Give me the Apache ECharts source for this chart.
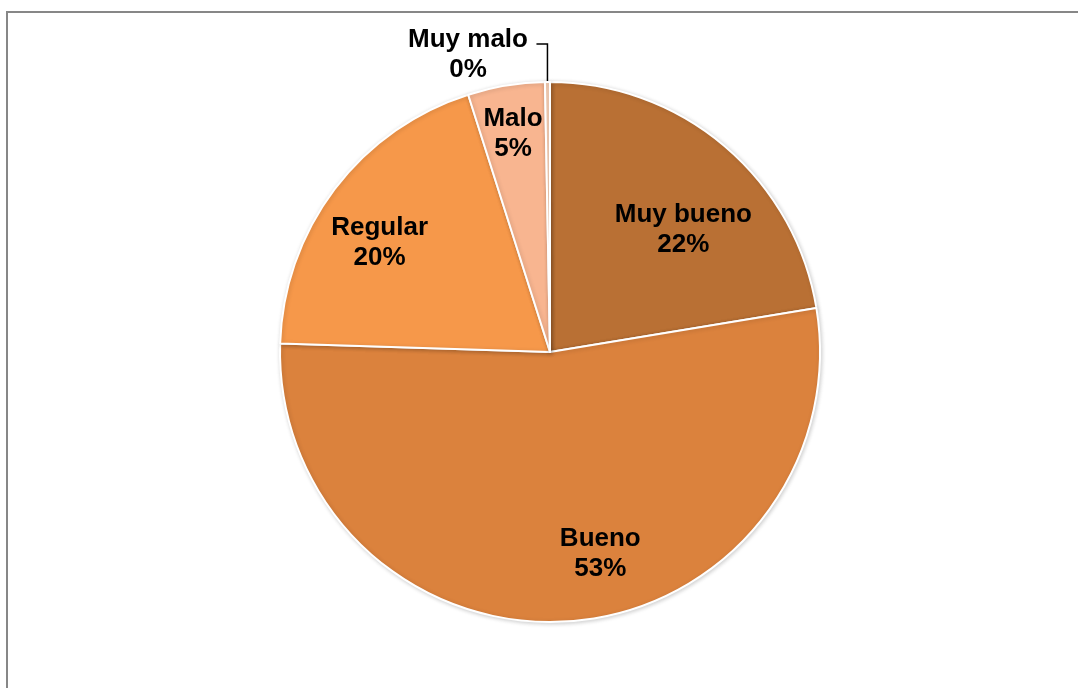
<!DOCTYPE html>
<html>
<head>
<meta charset="utf-8">
<script src="https://cdn.jsdelivr.net/npm/echarts@6/dist/echarts.min.js"></script>
<style>
  html, body { margin: 0; padding: 0; background: #ffffff; }
  #chart { width: 1078px; height: 688px; }
</style>
</head>
<body>
<div id="chart"></div>
<script>
// Rating categories, in clockwise order from 12 o'clock
const categories = ['Muy bueno', 'Bueno', 'Regular', 'Malo', 'Muy malo'];
// Share of answers per category (%)
const shares = [22.4, 53.1, 19.6, 4.6, 0.3];
const sliceColors = ['#B97034', '#DB823D', '#F6984A', '#F8B590', '#FBD3B8'];

// Pie geometry
const CX = 550, CY = 352, R = 270;

// Label placement per slice: angle clockwise from top (deg) and fraction of radius
const labelSpots = [
  { angle: 47.5, rf: 0.67 },
  { angle: 166, rf: 0.77 },
  { angle: 302.7, rf: 0.75 },
  { angle: 350.4, rf: 0.82 },
  null
];

const total = shares.reduce((a, b) => a + b, 0);
function midAngle(i) {
  let acc = 0;
  for (let k = 0; k < i; k++) acc += shares[k];
  return (acc + shares[i] / 2) / total * 360;
}
function polar(angleDeg, r) {
  const a = angleDeg * Math.PI / 180;
  return [CX + r * Math.sin(a), CY - r * Math.cos(a)];
}

const chart = echarts.init(document.getElementById('chart'), null, { renderer: 'canvas' });

const data = categories.map((name, i) => ({
  name: name,
  value: shares[i],
  itemStyle: { color: sliceColors[i] },
  label: { position: labelSpots[i] ? 'inside' : 'outside' },
  labelLine: { show: !labelSpots[i] }
}));

chart.setOption({
  backgroundColor: '#ffffff',
  animation: false,
  graphic: [{
    type: 'rect',
    shape: { x: 7, y: 12, width: 2000, height: 2000 },
    style: { fill: 'none', stroke: '#878787', lineWidth: 2 },
    z: 0
  }],
  series: [{
    type: 'pie',
    center: [CX, CY],
    radius: [0, R],
    startAngle: 90,
    clockwise: true,
    avoidLabelOverlap: false,
    itemStyle: {
      borderColor: '#ffffff',
      borderWidth: 2,
      shadowBlur: 4,
      shadowOffsetX: 1,
      shadowOffsetY: 1,
      shadowColor: 'rgba(0,0,0,0.18)'
    },
    label: {
      show: true,
      color: '#000000',
      fontFamily: '"Liberation Sans", Arial, sans-serif',
      fontWeight: 'bold',
      fontSize: 26,
      lineHeight: 30,
      align: 'center',
      formatter: function (p) {
        return p.name + '\n' + Math.round(p.percent) + '%';
      }
    },
    labelLine: {
      lineStyle: { color: '#000000', width: 1.5 }
    },
    labelLayout: function (params) {
      const i = params.dataIndex;
      const spot = labelSpots[i];
      if (spot) {
        const p = polar(spot.angle, spot.rf * R);
        return { x: p[0], y: p[1], align: 'center', verticalAlign: 'middle' };
      }
      // small slice: label above-left, elbow leader down to the rim
      const edge = polar(midAngle(i), R);
      const ly = CY - R - 38;
      return {
        x: 468, y: CY - R - 27,
        align: 'center', verticalAlign: 'middle',
        labelLinePoints: [[edge[0], edge[1] + 2], [edge[0], ly], [edge[0] - 11, ly]]
      };
    },
    emphasis: { disabled: true },
    data: data
  }]
});
</script>
</body>
</html>
